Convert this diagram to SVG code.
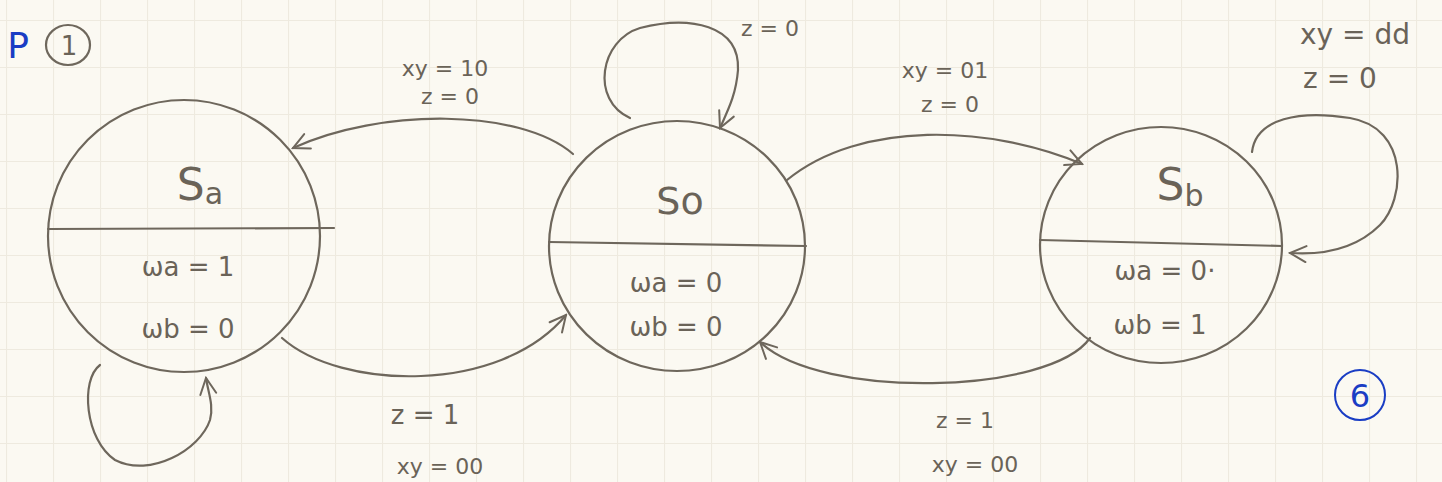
<svg xmlns="http://www.w3.org/2000/svg" width="1442" height="482" viewBox="0 0 1442 482">
<defs>
<pattern id="grid" width="47" height="47" patternUnits="userSpaceOnUse" x="6" y="20">
<path d="M0 0.5H47M0.5 0V47" fill="none" stroke="#eeeadf" stroke-width="1.2"/>
</pattern>
<marker id="arr" viewBox="0 0 20 20" refX="18" refY="10" markerWidth="20" markerHeight="20" markerUnits="userSpaceOnUse" orient="auto">
<path d="M2 2L18 10L2 18" fill="none" stroke="#6e675c" stroke-width="2" stroke-linecap="round"/>
</marker>
<style>
.st{fill:none;stroke:#6e675c;stroke-width:2.2;stroke-linecap:round}
.tx{font-family:"DejaVu Sans",sans-serif;fill:#6a6358;text-anchor:middle}
.nm{font-size:44px}
.out{font-size:26px}
.lb{font-size:22px}
.blue{fill:#1a3dc4}
</style>
</defs>
<rect width="1442" height="482" fill="#fbf9f2"/>
<rect width="1442" height="482" fill="url(#grid)"/>

<g id="page-marks">
<text x="18" y="58" class="tx blue" style="font-size:36px">P</text>
<ellipse cx="68" cy="45" rx="22" ry="20" class="st" stroke-width="1.6"/>
<text x="69" y="55" class="tx" style="font-size:26px">1</text>
<circle cx="1360" cy="395" r="25" fill="none" stroke="#1a3dc4" stroke-width="2"/>
<text x="1360" y="407" class="tx blue" style="font-size:32px">6</text>
</g>

<g id="Sa">
<ellipse cx="184" cy="236" rx="136" ry="136" class="st"/>
<line x1="48" y1="229" x2="334" y2="228" class="st"/>
<text x="200" y="200" class="tx nm">S<tspan font-size="30" dy="4">a</tspan></text>
<text x="188" y="276" class="tx out">ωa = 1</text>
<text x="188" y="338" class="tx out">ωb = 0</text>
</g>

<g id="S0">
<ellipse cx="677" cy="246" rx="128" ry="125" class="st"/>
<line x1="549" y1="242" x2="806" y2="246" class="st"/>
<text x="680" y="214" class="tx nm" style="font-size:38px">So</text>
<text x="676" y="292" class="tx out">ωa = 0</text>
<text x="676" y="336" class="tx out">ωb = 0</text>
</g>

<g id="Sb">
<ellipse cx="1161" cy="245" rx="121" ry="118" class="st"/>
<line x1="1040" y1="240" x2="1282" y2="246" class="st"/>
<text x="1180" y="200" class="tx nm">S<tspan font-size="30" dy="6">b</tspan></text>
<text x="1165" y="280" class="tx out">ωa = 0·</text>
<text x="1160" y="334" class="tx out">ωb = 1</text>
</g>

<g id="connectors">
<path d="M573 154 C 520 108 380 108 293 148" class="st" marker-end="url(#arr)"/>
<path d="M630 118 C 590 100 600 40 640 28 C 690 15 740 25 738 70 C 736 95 728 110 720 128" class="st" marker-end="url(#arr)"/>
<path d="M787 180 C 860 120 990 125 1082 164" class="st" marker-end="url(#arr)"/>
<path d="M1252 152 C 1256 118 1300 110 1350 118 C 1410 128 1405 200 1380 225 C 1355 250 1320 255 1290 253" class="st" marker-end="url(#arr)"/>
<path d="M282 338 C 340 390 500 395 566 315" class="st" marker-end="url(#arr)"/>
<path d="M1090 338 C 1050 395 820 400 760 342" class="st" marker-end="url(#arr)"/>
<path d="M100 365 C 80 380 85 440 115 460 C 150 478 200 450 210 420 C 214 405 208 392 206 378" class="st" marker-end="url(#arr)"/>
</g>

<g id="labels">
<text x="445" y="76" class="tx lb">xy = 10</text>
<text x="450" y="104" class="tx lb">z = 0</text>
<text x="770" y="36" class="tx lb">z = 0</text>
<text x="945" y="78" class="tx lb">xy = 01</text>
<text x="950" y="112" class="tx lb">z = 0</text>
<text x="1355" y="44" class="tx" style="font-size:28px">xy = dd</text>
<text x="1340" y="88" class="tx" style="font-size:28px">z = 0</text>
<text x="425" y="424" class="tx out">z = 1</text>
<text x="440" y="474" class="tx lb">xy = 00</text>
<text x="965" y="428" class="tx lb">z = 1</text>
<text x="975" y="472" class="tx lb">xy = 00</text>
</g>
</svg>
